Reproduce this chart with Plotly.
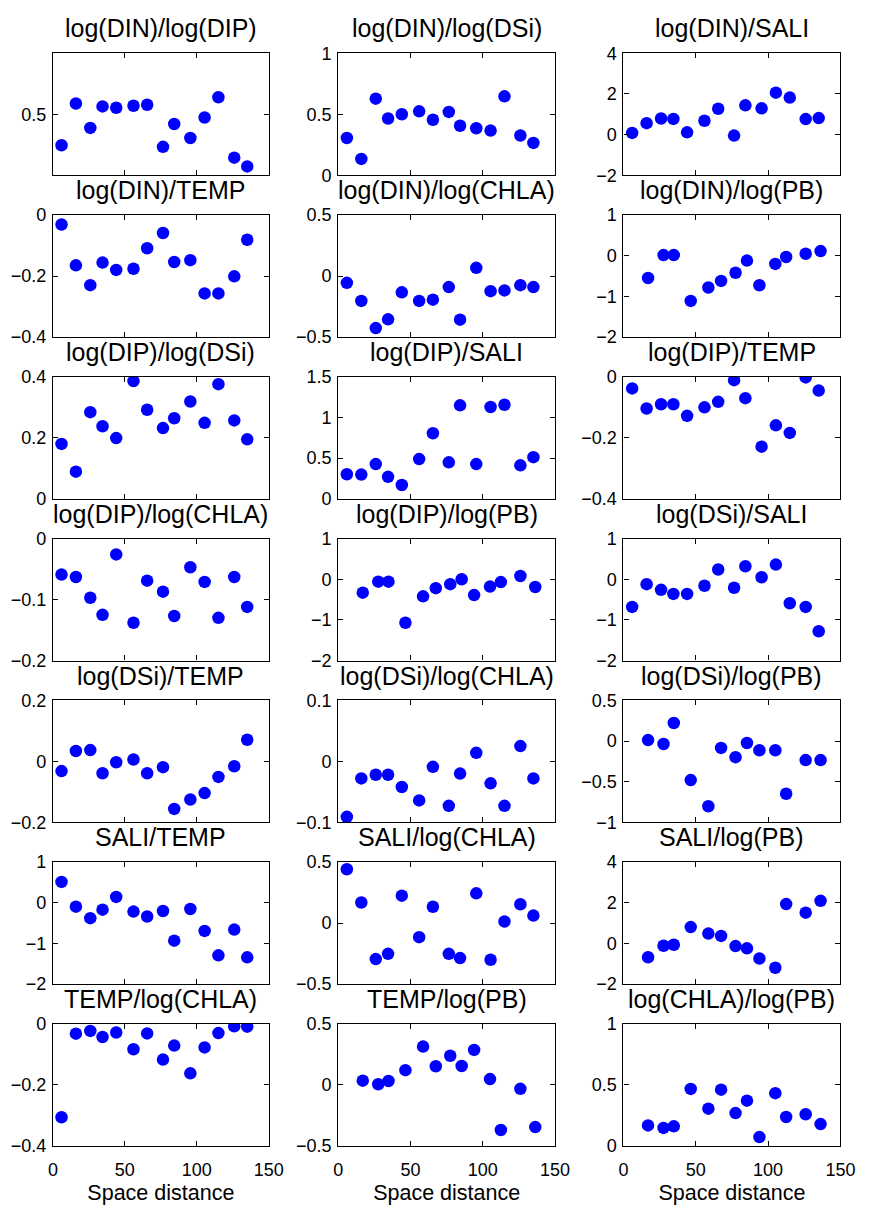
import plotly.graph_objects as go

W, H = 872, 1208

# x positions (space distance) for the two station sets
x_a = [6, 16, 26, 34.5, 44, 56, 65.5, 76.5, 84.3, 95.5, 105.4, 115, 126, 135]
x_b = [17, 27.7, 34.8, 46.5, 58.7, 67.5, 77.5, 85.4, 94, 105, 112.5, 126, 136.3]

titles = [
    "log(DIN)/log(DIP)", "log(DIN)/log(DSi)", "log(DIN)/SALI",
    "log(DIN)/TEMP", "log(DIN)/log(CHLA)", "log(DIN)/log(PB)",
    "log(DIP)/log(DSi)", "log(DIP)/SALI", "log(DIP)/TEMP",
    "log(DIP)/log(CHLA)", "log(DIP)/log(PB)", "log(DSi)/SALI",
    "log(DSi)/TEMP", "log(DSi)/log(CHLA)", "log(DSi)/log(PB)",
    "SALI/TEMP", "SALI/log(CHLA)", "SALI/log(PB)",
    "TEMP/log(CHLA)", "TEMP/log(PB)", "log(CHLA)/log(PB)",
]

din_dip = [0.246, 0.588, 0.388, 0.564, 0.553, 0.570, 0.578, 0.233, 0.420, 0.305, 0.473, 0.639, 0.144, 0.072]
din_dsi = [0.305, 0.134, 0.628, 0.465, 0.500, 0.524, 0.455, 0.519, 0.406, 0.385, 0.366, 0.647, 0.326, 0.265]
din_sali = [0.08, 0.56, 0.79, 0.77, 0.11, 0.68, 1.27, -0.05, 1.44, 1.29, 2.06, 1.82, 0.76, 0.81]
din_temp = [-0.031, -0.165, -0.230, -0.156, -0.180, -0.176, -0.109, -0.059, -0.154, -0.148, -0.257, -0.257, -0.201, -0.081]
din_chla = [-0.056, -0.204, -0.427, -0.355, -0.134, -0.204, -0.194, -0.091, -0.358, 0.067, -0.124, -0.118, -0.075, -0.091]
din_pb = [-0.548, 0.016, 0.016, -1.113, -0.782, -0.621, -0.419, -0.121, -0.726, -0.202, -0.032, 0.048, 0.113]
dip_dsi = [0.180, 0.089, 0.284, 0.238, 0.199, 0.386, 0.292, 0.232, 0.264, 0.319, 0.249, 0.376, 0.257, 0.195]
dip_sali = [0.302, 0.298, 0.427, 0.270, 0.169, 0.488, 0.806, 0.448, 1.149, 0.427, 1.129, 1.157, 0.411, 0.512]
dip_temp = [-0.038, -0.104, -0.090, -0.090, -0.128, -0.100, -0.082, -0.011, -0.070, -0.229, -0.159, -0.184, -0.002, -0.045]
dip_chla = [-0.059, -0.063, -0.097, -0.125, -0.026, -0.138, -0.069, -0.087, -0.127, -0.047, -0.071, -0.130, -0.063, -0.112]
dip_pb = [-0.33, -0.06, -0.06, -1.07, -0.42, -0.22, -0.12, 0.0, -0.39, -0.18, -0.07, 0.08, -0.19]
dsi_sali = [-0.68, -0.12, -0.26, -0.36, -0.36, -0.16, 0.24, -0.21, 0.32, 0.05, 0.36, -0.59, -0.68, -1.28]
dsi_temp = [-0.032, 0.034, 0.037, -0.039, -0.003, 0.006, -0.039, -0.019, -0.156, -0.125, -0.104, -0.051, -0.016, 0.071]
dsi_chla = [-0.091, -0.028, -0.022, -0.022, -0.042, -0.064, -0.009, -0.073, -0.020, 0.014, -0.036, -0.073, 0.025, -0.028]
dsi_pb = [0.012, -0.036, 0.222, -0.480, -0.802, -0.085, -0.198, -0.024, -0.113, -0.113, -0.649, -0.234, -0.234]
sali_temp = [0.514, -0.096, -0.378, -0.169, 0.145, -0.217, -0.337, -0.201, -0.932, -0.153, -0.691, -1.293, -0.659, -1.341]
sali_chla = [0.442, 0.169, -0.295, -0.252, 0.225, -0.115, 0.134, -0.252, -0.287, 0.244, -0.300, 0.013, 0.155, 0.062]
sali_pb = [-0.677, -0.113, -0.065, 0.806, 0.484, 0.371, -0.129, -0.242, -0.742, -1.194, 1.935, 1.516, 2.097]
temp_chla = [-0.306, -0.032, -0.023, -0.043, -0.028, -0.083, -0.031, -0.117, -0.071, -0.162, -0.077, -0.030, -0.008, -0.009]
temp_pb = [0.035, 0.005, 0.032, 0.121, 0.314, 0.153, 0.239, 0.155, 0.287, 0.048, -0.370, -0.032, -0.346]
chla_pb = [0.168, 0.147, 0.160, 0.467, 0.305, 0.461, 0.269, 0.371, 0.072, 0.432, 0.237, 0.259, 0.179]

series = [din_dip, din_dsi, din_sali, din_temp, din_chla, din_pb, dip_dsi, dip_sali, dip_temp,
          dip_chla, dip_pb, dsi_sali, dsi_temp, dsi_chla, dsi_pb, sali_temp, sali_chla, sali_pb,
          temp_chla, temp_pb, chla_pb]

y_ranges = [
    [0, 1], [0, 1], [-2, 4],
    [-0.4, 0], [-0.5, 0.5], [-2, 1],
    [0, 0.4], [0, 1.5], [-0.4, 0],
    [-0.2, 0], [-2, 1], [-2, 1],
    [-0.2, 0.2], [-0.1, 0.1], [-1, 0.5],
    [-2, 1], [-0.5, 0.5], [-2, 4],
    [-0.4, 0], [-0.5, 0.5], [0, 1],
]
y_ticks = [
    [0.5], [0, 0.5, 1], [-2, 0, 2, 4],
    [-0.4, -0.2, 0], [-0.5, 0, 0.5], [-2, -1, 0, 1],
    [0, 0.2, 0.4], [0, 0.5, 1, 1.5], [-0.4, -0.2, 0],
    [-0.2, -0.1, 0], [-2, -1, 0, 1], [-2, -1, 0, 1],
    [-0.2, 0, 0.2], [-0.1, 0, 0.1], [-1, -0.5, 0, 0.5],
    [-2, -1, 0, 1], [-0.5, 0, 0.5], [-2, 0, 2, 4],
    [-0.4, -0.2, 0], [-0.5, 0, 0.5], [0, 0.5, 1],
]
x_ticks = [0, 50, 100, 150]
x_label = "Space distance"

FONT = "Liberation Sans, Arial, Helvetica, sans-serif"
col_px = [(49, 270), (341, 563), (633, 855)]
ROW_TOP0, ROW_PITCH, ROW_H = 44, 164.5, 124

fig = go.Figure()
layout = dict(
    width=W, height=H, margin=dict(l=0, r=0, t=0, b=0),
    paper_bgcolor="white", plot_bgcolor="white", showlegend=False,
    font=dict(family=FONT, color="black", size=18),
)
annotations = []
for i, (title, ys) in enumerate(zip(titles, series)):
    r, c = divmod(i, 3)
    n = i + 1
    xs = x_b if len(ys) == 13 else x_a
    xa = "x" if n == 1 else f"x{n}"
    ya = "y" if n == 1 else f"y{n}"
    fig.add_trace(go.Scatter(
        x=xs, y=ys, mode="markers", xaxis=xa, yaxis=ya,
        marker=dict(color="#0000FF", size=12.5, line=dict(width=0)),
        hoverinfo="x+y",
    ))
    top = ROW_TOP0 + r * ROW_PITCH
    bot = top + ROW_H
    l, rr = col_px[c]
    xd = [l / W, rr / W]
    yd = [1 - bot / H, 1 - top / H]
    common = dict(showline=True, linecolor="black", linewidth=1.2, mirror="ticks",
                  ticks="inside", ticklen=5, tickcolor="black", tickwidth=1,
                  showgrid=False, zeroline=False,
                  tickfont=dict(family=FONT, size=18, color="black"))
    xkey = "xaxis" if n == 1 else f"xaxis{n}"
    ykey = "yaxis" if n == 1 else f"yaxis{n}"
    xaxis = dict(common, domain=xd, range=[0, 150], tickmode="array", tickvals=x_ticks,
                 anchor=ya, showticklabels=(r == 6), ticklabelstandoff=7)
    if r == 6:
        xaxis["title"] = dict(text=x_label, font=dict(family=FONT, size=21.5, color="black"), standoff=6)
    yaxis = dict(common, domain=yd, range=y_ranges[i], tickmode="array", tickvals=y_ticks[i],
                 anchor=xa, ticklabelstandoff=2)
    layout[xkey] = xaxis
    layout[ykey] = yaxis
    annotations.append(dict(
        text=title, xref="paper", yref="paper", x=(l + rr) / 2 / W, y=1 - (top - 9) / H,
        xanchor="center", yanchor="bottom", showarrow=False,
        font=dict(family=FONT, size=25, color="black"),
    ))
layout["annotations"] = annotations
fig.update_layout(**layout)
fig.write_html("out.html")
